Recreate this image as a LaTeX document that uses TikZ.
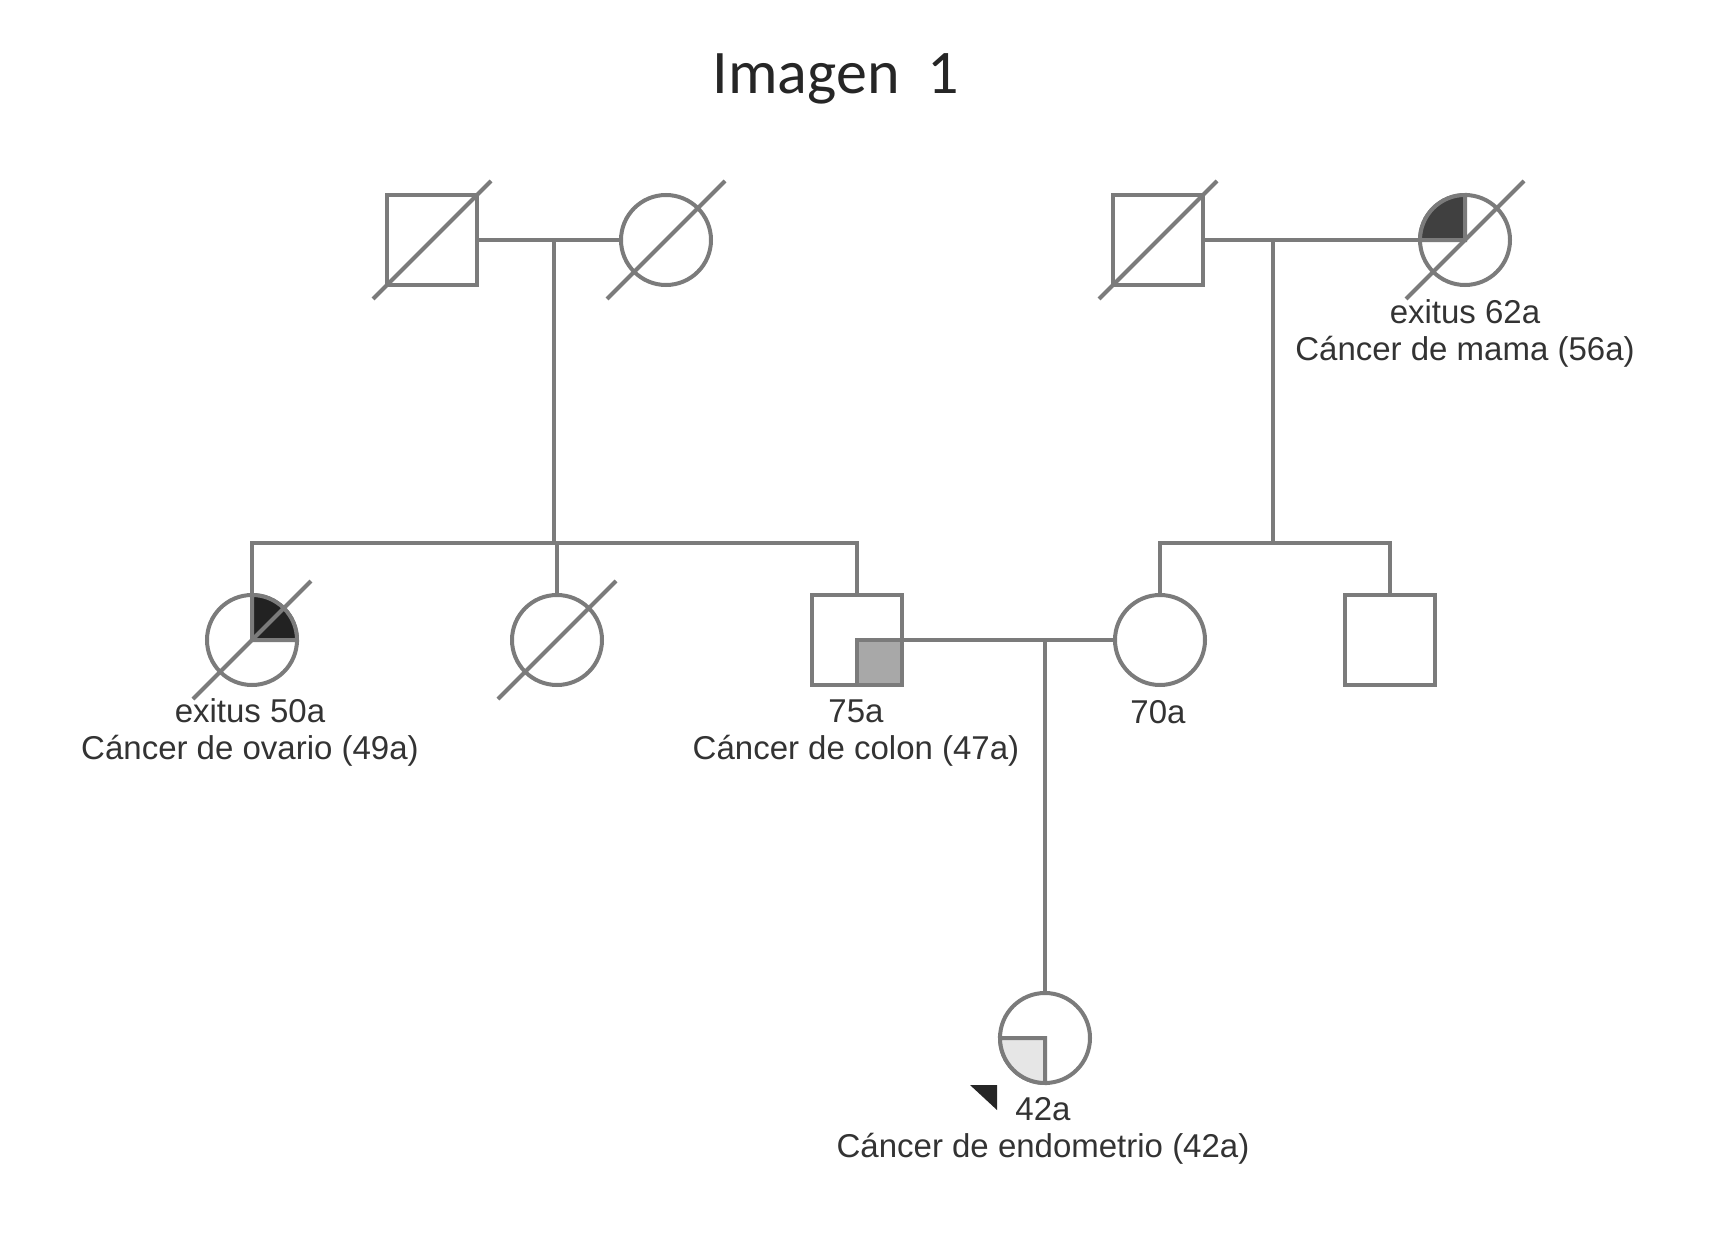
\documentclass[tikz,border=0pt]{standalone}
\usepackage{fontspec}
\setmainfont{Liberation Sans}
\newfontfamily\titlefont{Carlito}
\usetikzlibrary{calc}
\definecolor{pedgray}{HTML}{7B7B7B}
\definecolor{txtgray}{HTML}{333333}
\definecolor{breastfill}{HTML}{404040}
\definecolor{ovaryfill}{HTML}{222222}
\definecolor{colonfill}{HTML}{A8A8A8}
\definecolor{endofill}{HTML}{E6E6E6}

\begin{document}
\begin{tikzpicture}[
            x=0.5pt, y=-0.5pt,
            ped/.style={draw=pedgray, line width=2pt},
            person/.style={ped, inner sep=0pt, outer sep=0pt, minimum size=45pt, fill=white},
            male/.style={person, rectangle},
            female/.style={person, circle},
            quad/.style={draw=pedgray, line width=2pt},
            info/.style={align=center, text=txtgray, anchor=base, font=\fontsize{16.5}{18.5}\selectfont},
            title/.style={anchor=base, text=black!85, font=\titlefont\fontsize{31}{36}\selectfont}
    ]
        \useasboundingbox (0,0) rectangle (1709,1247);

        % Title
        \node[title] (title) at (836,94) {Imagen\ \ 1};

        % Grandparents (paternal)
        \node[male] (gf_pat) at (432,240) {};
        \node[female] (gm_pat) at (666,240) {};

        % Grandparents (maternal)
        \node[male] (gf_mat) at (1158,240) {};
        \node[female] (gm_mat) at (1465,240) {};
        \filldraw[quad, fill=breastfill] (gm_mat.center) -- (gm_mat.west) arc[start angle=180, end angle=90, radius=22.5pt] -- cycle;

        % Second generation
        \node[female] (aunt_ov) at (252,640) {};
        \filldraw[quad, fill=ovaryfill] (aunt_ov.center) -- (aunt_ov.north) arc[start angle=90, end angle=0, radius=22.5pt] -- cycle;
        \node[female] (aunt) at (557,640) {};
        \node[male] (father) at (857,640) {};
        \filldraw[quad, fill=colonfill] (father.center) rectangle (father.south east);
        \node[female] (mother) at (1160,640) {};
        \node[male] (uncle) at (1390,640) {};

        % Proband
        \node[female] (proband) at (1045,1038) {};
        \filldraw[quad, fill=endofill] (proband.center) -- (proband.south) arc[start angle=270, end angle=180, radius=22.5pt] -- cycle;
        \fill[black!85] ($(proband)+(-75,47)$) -- ($(proband)+(-48,47)$) -- ($(proband)+(-48,72)$) -- cycle;

        % Deceased
        \draw[ped] ($(gf_pat)+(-59,59)$) -- ($(gf_pat)+(59,-59)$);
        \draw[ped] ($(gm_pat)+(-59,59)$) -- ($(gm_pat)+(59,-59)$);
        \draw[ped] ($(gf_mat)+(-59,59)$) -- ($(gf_mat)+(59,-59)$);
        \draw[ped] ($(gm_mat)+(-59,59)$) -- ($(gm_mat)+(59,-59)$);
        \draw[ped] ($(aunt_ov)+(-59,59)$) -- ($(aunt_ov)+(59,-59)$);
        \draw[ped] ($(aunt)+(-59,59)$) -- ($(aunt)+(59,-59)$);

        % Lines
        \coordinate (desc_pat) at (554,240);
        \coordinate (sib_pat) at (554,543);
        \coordinate (desc_mat) at (1273,240);
        \coordinate (sib_mat) at (1273,543);

        \draw[ped] (gf_pat) -- (gm_pat);
        \draw[ped] (desc_pat) -- (sib_pat);
        \draw[ped] (aunt_ov.north) -- (aunt_ov.north |- sib_pat) -- (father.north |- sib_pat) -- (father.north);
        \draw[ped] (aunt.north) -- (aunt.north |- sib_pat);

        \draw[ped] (gf_mat) -- (gm_mat);
        \draw[ped] (desc_mat) -- (sib_mat);
        \draw[ped] (mother.north) -- (mother.north |- sib_mat) -- (uncle.north |- sib_mat) -- (uncle.north);

        \draw[ped] (father) -- (mother);
        \draw[ped] (proband.north |- father) -- (proband.north);

        % Labels
        \node[info] (lbl_gm_mat) at (1465,360) {exitus 62a\\Cáncer de mama (56a)};
        \node[info] (lbl_aunt_ov) at (250,759) {exitus 50a\\Cáncer de ovario (49a)};
        \node[info] (lbl_father) at (856,759) {75a\\Cáncer de colon (47a)};
        \node[info] (lbl_mother) at (1158,723) {70a};
        \node[info] (lbl_proband) at (1043,1157) {42a\\Cáncer de endometrio (42a)};

    \end{tikzpicture}
\end{document}
